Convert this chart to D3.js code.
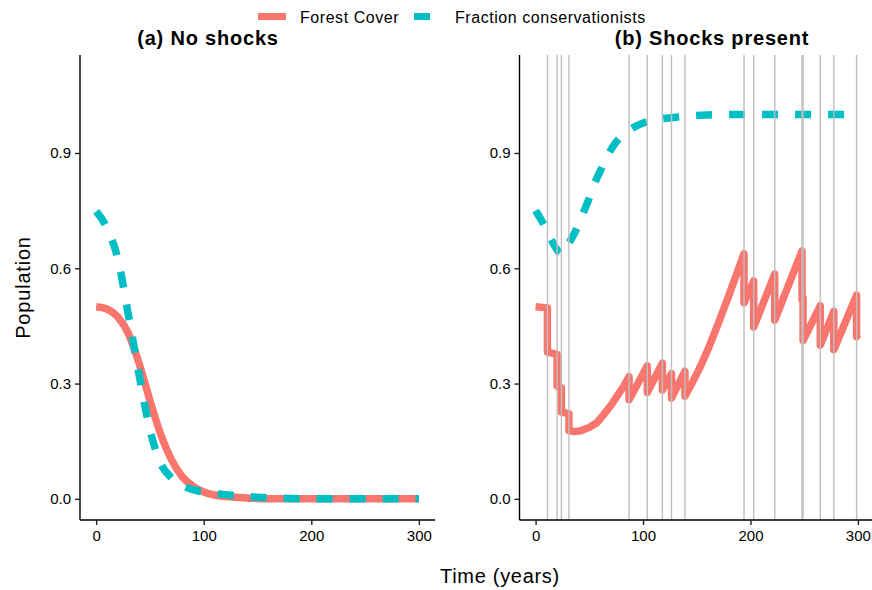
<!DOCTYPE html>
<html>
<head>
<meta charset="utf-8">
<script src="https://cdn.jsdelivr.net/npm/d3@7"></script>
<style>
  html, body { margin: 0; padding: 0; background: #fff; }
  svg { display: block; font-family: 'Liberation Sans', Arial, sans-serif; }
</style>
</head>
<body>
<div id="vis"></div>
<script>
// panel (a): no shocks
const forestA_t = [0, 10, 20, 30, 40, 50, 60, 70, 80, 90, 100, 110, 120, 130, 140, 150, 160, 200, 250, 300]
const forestA = [0.5, 0.494, 0.474, 0.43, 0.352, 0.256, 0.168, 0.102, 0.058, 0.033, 0.018, 0.01, 0.006, 0.004, 0.002, 0.001, 0, 0, 0, 0]

const consA_t = [0, 10, 20, 30, 40, 50, 60, 70, 80, 90, 100, 110, 120, 130, 140, 150, 160, 170, 180, 200, 250, 300]
const consA = [0.748, 0.705, 0.627, 0.478, 0.322, 0.18, 0.092, 0.055, 0.035, 0.024, 0.018, 0.014, 0.011, 0.008, 0.006, 0.004, 0.003, 0.002, 0.001, 0, 0, 0]

// panel (b): shocks present (shock years repeat: value before / after the drop)
const forestB_t = [0, 11, 11, 20, 20, 24, 24, 31, 31, 36, 42, 50, 57, 63, 70, 76, 82, 87, 87,
  104, 104, 118, 118, 126.5, 126.5, 139, 139, 146, 153, 160, 170, 180, 194, 194, 203, 203, 222.6, 222.6,
  248, 248, 249, 249, 265, 265, 277.6, 277.6, 298.8, 298.8, 300]
const forestB = [0.5, 0.497, 0.382, 0.376, 0.293, 0.289, 0.226, 0.222, 0.178, 0.175, 0.177, 0.186, 0.198, 0.218, 0.243, 0.268, 0.293, 0.318, 0.258,
  0.346, 0.277, 0.353, 0.283, 0.326, 0.262, 0.332, 0.267, 0.303, 0.342, 0.386, 0.456, 0.53, 0.638, 0.51, 0.567, 0.447, 0.585, 0.465,
  0.645, 0.518, 0.523, 0.412, 0.503, 0.4, 0.488, 0.388, 0.53, 0.422, 0.428]

const consB_t = [0, 5, 10, 15, 20, 25, 30, 37, 43, 49, 55, 60, 67, 74, 85, 100, 115, 130, 145, 160, 180, 300]
const consB = [0.75, 0.727, 0.702, 0.672, 0.648, 0.636, 0.66, 0.696, 0.735, 0.776, 0.822, 0.852, 0.893, 0.925, 0.955, 0.978, 0.988, 0.993, 0.997, 0.999, 1, 1]

const shocks = [11, 20, 24, 31, 87, 104, 118, 126.5, 139, 194, 203, 222.6, 248, 249, 265, 277.6, 298.8]

const xTicks = [0, 100, 200, 300]
const yTicks = [0, 0.3, 0.6, 0.9]
const seriesNames = ['Forest Cover', 'Fraction conservationists']
const colors = ['#F8766D', '#00BFC4']

const width = 872, height = 590
const plotTop = 55, plotBottom = 520

const svg = d3.select('#vis')
  .append('svg')
  .attr('width', width)
  .attr('height', height)

const y = d3.scaleLinear().domain([-0.055, 1.155]).range([plotBottom, plotTop])

const zip = (ts, vs) => ts.map((t, i) => [t, vs[i]])

function panel(left, right, title, titleX, forest, cons, vlines) {
  const x = d3.scaleLinear().domain([-15, 315]).range([left, right])
  const g = svg.append('g')

  const smooth = d3.line().x((d) => x(d[0])).y((d) => y(d[1])).curve(d3.curveMonotoneX)
  const straight = d3.line().x((d) => x(d[0])).y((d) => y(d[1]))

  g.append('path')
    .attr('d', forest.smooth ? smooth(forest.data) : straight(forest.data))
    .attr('fill', 'none')
    .attr('stroke', colors[0])
    .attr('stroke-width', 7.5)
    .attr('stroke-linejoin', 'round')

  g.append('path')
    .attr('d', smooth(cons))
    .attr('fill', 'none')
    .attr('stroke', colors[1])
    .attr('stroke-width', 7.5)
    .attr('stroke-dasharray', '16,17')

  g.selectAll('line.shock')
    .data(vlines)
    .enter()
    .append('line')
    .attr('class', 'shock')
    .attr('x1', (d) => x(d))
    .attr('x2', (d) => x(d))
    .attr('y1', plotTop)
    .attr('y2', plotBottom)
    .attr('stroke', '#BEBEBE')
    .attr('stroke-width', 1.4)

  const xAxis = g.append('g')
    .attr('transform', 'translate(0,' + plotBottom + ')')
    .call(d3.axisBottom(x).tickValues(xTicks).tickSize(5).tickPadding(5).tickFormat(d3.format('d')))
  const yAxis = g.append('g')
    .attr('transform', 'translate(' + left + ',0)')
    .call(d3.axisLeft(y).tickValues(yTicks).tickSize(5).tickPadding(4).tickFormat(d3.format('.1f')))

  ;[xAxis, yAxis].forEach((a) => {
    a.select('.domain').attr('stroke', '#000').attr('stroke-width', 1.4)
    a.selectAll('.tick line').attr('stroke', '#222').attr('stroke-width', 1.4)
    a.selectAll('.tick text').attr('fill', '#000').style('font-size', '15px')
      .style('font-family', "'Liberation Sans', Arial, sans-serif")
  })
  xAxis.select('.domain').attr('d', 'M' + left + ',0H' + right)
  yAxis.select('.domain').attr('d', 'M0,' + plotBottom + 'V' + plotTop)

  svg.append('text')
    .attr('x', titleX)
    .attr('y', 45)
    .attr('text-anchor', 'middle')
    .style('font-size', '20px')
    .style('font-weight', 'bold')
    .style('letter-spacing', '0.8px')
    .text(title)
}

panel(80, 435, '(a) No shocks', 208, { data: zip(forestA_t, forestA), smooth: true }, zip(consA_t, consA), [])
panel(519.5, 874, '(b) Shocks present', 712, { data: zip(forestB_t, forestB), smooth: false }, zip(consB_t, consB), shocks)

// axis titles
svg.append('text')
  .attr('x', 500)
  .attr('y', 583)
  .attr('text-anchor', 'middle')
  .style('font-size', '20px')
  .style('letter-spacing', '0.7px')
  .text('Time (years)')

svg.append('text')
  .attr('transform', 'translate(30,' + (plotTop + plotBottom) / 2 + ')rotate(-90)')
  .attr('text-anchor', 'middle')
  .style('font-size', '20px')
  .style('letter-spacing', '0.8px')
  .text('Population')

// legend
const legend = svg.append('g')
const keyX = [258, 414]
const textX = [300, 455]
seriesNames.forEach((name, i) => {
  legend.append('line')
    .attr('x1', keyX[i])
    .attr('x2', keyX[i] + 28)
    .attr('y1', 16.5)
    .attr('y2', 16.5)
    .attr('stroke', colors[i])
    .attr('stroke-width', 7)
    .attr('stroke-dasharray', i === 1 ? '16,17' : null)
  legend.append('text')
    .attr('x', textX[i])
    .attr('y', 23)
    .style('font-size', '16px')
    .style('letter-spacing', '0.55px')
    .text(name)
})
</script>
</body>
</html>
